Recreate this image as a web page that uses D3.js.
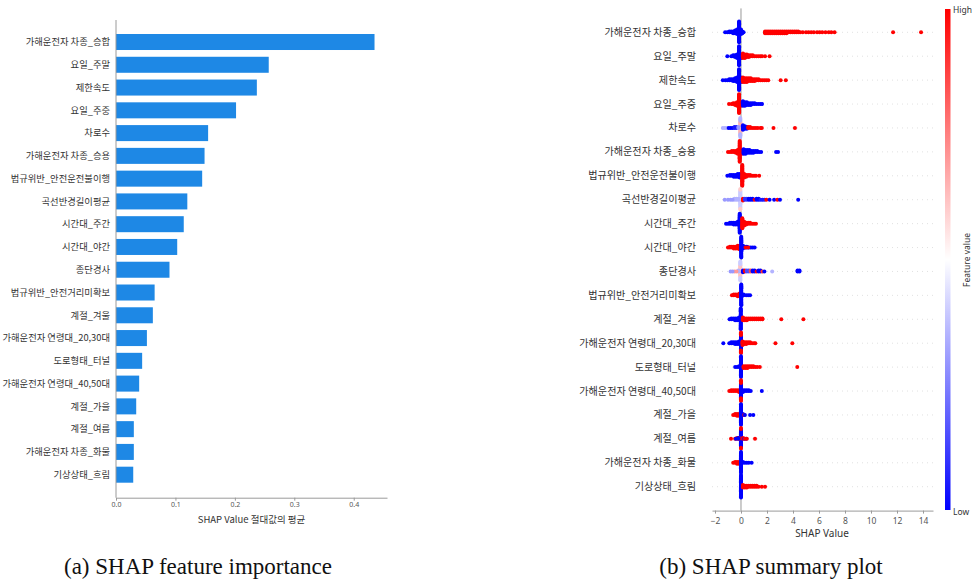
<!DOCTYPE html>
<html>
<head>
<meta charset="utf-8">
<script src="https://cdn.jsdelivr.net/npm/d3@7"></script>
<style>
  body { margin: 0; background: #fff; }
  svg { display: block; }
  .kr { font-family: "Noto Sans CJK KR", "Noto Sans", sans-serif; }
  .lat { font-family: "Noto Sans", "Open Sans", sans-serif; }
  .cap { font-family: "Liberation Serif", "DejaVu Serif", serif; }
</style>
</head>
<body>
<svg id="chart" width="974" height="580"></svg>
<script>
// Feature names, ordered by importance
const features = [
  "가해운전자 차종_승합", "요일_주말", "제한속도", "요일_주중", "차로수",
  "가해운전자 차종_승용", "법규위반_안전운전불이행", "곡선반경길이평균", "시간대_주간", "시간대_야간",
  "종단경사", "법규위반_안전거리미확보", "계절_겨울", "가해운전자 연령대_20,30대", "도로형태_터널",
  "가해운전자 연령대_40,50대", "계절_가을", "계절_여름", "가해운전자 차종_화물", "기상상태_흐림"
];

// Mean |SHAP value| per feature
const meanAbsShap = [
  0.435, 0.257, 0.237, 0.202, 0.155,
  0.149, 0.145, 0.120, 0.114, 0.103,
  0.090, 0.065, 0.062, 0.052, 0.044,
  0.039, 0.034, 0.030, 0.030, 0.029
];

const importanceTicks = [0.0, 0.1, 0.2, 0.3, 0.4];
const summaryTicks = [-2, 0, 2, 4, 6, 8, 10, 12, 14];

// Summary-plot samples per feature: [feature value (0 low .. 1 high), repeats, SHAP values]
const dots01 = [
  [0, 24, [-0.15]], [0, 6, [-0.3, 0.0]], [0, 4, [-0.45]], [0, 3, [-0.6, 0.1]],
  [0, 2, [-0.75, -0.9]], [0, 1, [-1.05, -1.22, 0.2]],
  [1, 3, [1.85, 2.0, 2.15, 2.3, 2.45, 2.6, 2.75, 2.9, 3.05, 3.2, 3.35, 3.5]],
  [1, 2, [3.65, 3.8, 3.95, 4.1, 4.25, 4.4]],
  [1, 1, [4.55, 4.75, 5.0, 5.2, 5.4, 5.6, 5.85, 6.05, 6.25, 6.5, 6.75, 6.95, 7.2, 11.7, 13.85]]
];
const dots02 = [
  [0, 22, [-0.15]], [0, 5, [-0.3, 0.0]], [0, 3, [-0.45]], [0, 2, [-0.6]], [0, 1, [-0.75, -1.05]],
  [1, 6, [0.15]], [1, 5, [0.3]], [1, 4, [0.45]], [1, 3, [0.6]], [1, 2, [0.75, 0.9]],
  [1, 1, [1.05, 1.2, 1.35, 1.5, 1.62, 1.85, 2.2]]
];
const dots03 = [
  [0, 24, [-0.15]], [0, 6, [-0.3, 0.0]], [0, 4, [-0.45]], [0, 3, [-0.6]], [0, 2, [-0.75, -0.9]],
  [0, 1, [-1.05, -1.2, -1.4]],
  [1, 6, [0.15]], [1, 5, [0.3, 0.45]], [1, 4, [0.6, 0.75]], [1, 3, [0.9, 1.05]], [1, 2, [1.2, 1.35]],
  [1, 1, [1.5, 1.65, 1.8, 1.95, 2.1, 3.05, 3.45]]
];
const dots04 = [
  [1, 22, [-0.15]], [1, 5, [-0.3, 0.0]], [1, 3, [-0.45]], [1, 2, [-0.6]], [1, 1, [-0.72, -0.92]],
  [0, 6, [0.15]], [0, 5, [0.3]], [0, 4, [0.45]], [0, 3, [0.6, 0.75]], [0, 2, [0.9, 1.05]],
  [0, 1, [1.2, 1.35, 1.5, 1.62]]
];
const dots05 = [
  [0.65, 14, [-0.05]], [0.35, 8, [-0.05]],
  [0.35, 1, [-1.4, -1.25, -1.1]], [0, 1, [-0.95, -0.8, -0.65]], [0.05, 2, [-0.5, -0.35]], [0.3, 2, [-0.2]],
  [0, 6, [0.15]], [0, 4, [0.3]], [0, 3, [0.45]],
  [1, 2, [0.55, 0.7]], [1, 1, [0.85, 1.0, 1.15, 1.3, 1.5, 1.6, 2.5, 4.15]]
];
const dots06 = [
  [1, 24, [-0.1]], [1, 5, [-0.25, 0.05]], [1, 3, [-0.4]], [1, 2, [-0.55, -0.7]], [1, 1, [-0.85, -1.0]],
  [0, 6, [0.2]], [0, 5, [0.35]], [0, 4, [0.5, 0.65]], [0, 3, [0.8, 0.95]], [0, 2, [1.1, 1.25]],
  [0, 1, [1.4, 1.55, 2.7, 2.85]]
];
const dots07 = [
  [0, 5, [-0.1]], [0, 4, [-0.25]], [0, 3, [-0.4, -0.55]], [0, 2, [-0.7, -0.85]], [0, 1, [-1.05]],
  [1, 24, [0.1]], [1, 5, [0.25]], [1, 3, [0.4]], [1, 2, [0.55, 0.7]], [1, 1, [0.85, 1.0, 1.15, 1.4]]
];
const dots08 = [
  [0.4, 20, [-0.05]], [0.6, 4, [-0.05]],
  [0.35, 2, [-0.2, -0.35, -0.5]], [0.3, 1, [-0.65, -0.8, -1.0, -1.25]],
  [1, 3, [0.15]], [0.1, 2, [0.3, 0.45]], [0, 2, [0.6, 0.75, 0.9]], [1, 1, [1.05]], [0, 2, [1.2, 1.35]],
  [0.05, 1, [1.5, 1.65, 1.8]], [1, 1, [1.95]], [0, 1, [2.2, 2.55]], [1, 1, [2.8]], [0, 1, [3.0, 4.4]]
];
const dots09 = [
  [0, 22, [-0.1]], [0, 4, [-0.25]], [0, 3, [-0.4, -0.55]], [0, 2, [-0.7, -0.85]], [0, 1, [-1.0, -1.15]],
  [1, 12, [0.1]], [1, 5, [0.25]], [1, 3, [0.4]], [1, 2, [0.55, 0.7]], [1, 1, [0.85, 1.0, 1.15]]
];
const dots10 = [
  [1, 5, [-0.1]], [1, 4, [-0.25]], [1, 3, [-0.4, -0.55]], [1, 2, [-0.7, -0.85]], [1, 1, [-1.0]],
  [0, 24, [0.02]], [0, 4, [0.15]], [0, 2, [0.3, 0.45]], [0, 1, [0.6, 0.75, 0.9, 1.05]],
  [1, 1, [0.35, 0.55]]
];
const dots11 = [
  [0.62, 14, [-0.05]], [0.4, 8, [-0.05]],
  [0.35, 2, [-0.2]], [0.7, 1, [-0.35, -0.5]], [0.3, 1, [-0.65, -0.8]],
  [0, 3, [0.15]], [1, 2, [0.3]], [0.15, 2, [0.45, 0.6]], [0.85, 2, [0.75]], [0, 2, [0.9, 1.05]],
  [1, 1, [1.2]], [0, 2, [1.35, 1.5]], [0.9, 1, [1.65]], [0, 1, [1.8]], [0.35, 1, [2.4]], [0, 2, [4.35, 4.5]]
];
const dots12 = [
  [1, 4, [-0.1]], [1, 3, [-0.25]], [1, 2, [-0.4, -0.55]], [1, 1, [-0.7]],
  [0, 24, [0.02]], [0, 2, [0.2]], [0, 1, [0.4, 0.55, 0.7]]
];
const dots13 = [
  [0, 24, [-0.02]], [0, 4, [-0.15]], [0, 3, [-0.3, -0.45]], [0, 2, [-0.6, -0.75]], [0, 1, [-0.88]],
  [1, 4, [0.15]], [1, 3, [0.3, 0.45]], [1, 2, [0.6, 0.75, 0.9, 1.05, 1.2, 1.35, 1.5, 1.65]], [1, 1, [3.1, 4.8]]
];
const dots14 = [
  [0, 16, [0.0]], [1, 8, [0.0]], [0, 4, [-0.15]], [0, 3, [-0.3, -0.45]], [0, 2, [-0.6, -0.75]], [0, 1, [-0.9, -1.36]],
  [1, 5, [0.12]], [1, 3, [0.25, 0.4]], [1, 2, [0.55, 0.7]], [1, 1, [0.85, 1.0, 1.1, 2.65, 3.95]]
];
const dots15 = [
  [0, 24, [0.0]], [0, 2, [-0.15]], [0, 1, [-0.3, -0.45]],
  [1, 3, [0.2, 0.35, 0.5]], [1, 2, [0.65, 0.8, 0.95]], [1, 1, [1.1, 1.25, 1.45, 4.33]]
];
const dots16 = [
  [1, 3, [-0.15]], [1, 2, [-0.3, -0.45, -0.6, -0.75]], [1, 1, [-0.9]],
  [0, 16, [0.0]], [1, 8, [0.0]], [0, 3, [0.15]], [0, 2, [0.3, 0.45, 0.6]], [0, 1, [0.75, 1.6]]
];
const dots17 = [
  [1, 3, [-0.15, -0.3]], [1, 2, [-0.45]], [1, 1, [-0.6]],
  [0, 24, [0.0]], [0, 2, [0.15]], [1, 1, [0.25]], [0, 1, [0.3, 0.7, 0.95]]
];
const dots18 = [
  [0, 20, [0.0]], [1, 4, [0.0]], [1, 2, [-0.15, -0.3]], [0, 2, [-0.2]], [1, 1, [-0.45, -0.77]], [0, 1, [-0.4]],
  [1, 2, [0.15]], [0, 1, [0.25, 0.4]], [1, 1, [0.3, 0.45, 1.08]]
];
const dots19 = [
  [1, 3, [-0.15, -0.3]], [1, 2, [-0.45]], [1, 1, [-0.6]],
  [0, 24, [0.0]], [0, 2, [0.15]], [0, 1, [0.3, 0.45, 0.6, 0.82]]
];
const dots20 = [
  [0, 26, [0.0]],
  [1, 4, [0.15]], [1, 3, [0.3, 0.45]], [1, 2, [0.6, 0.75, 0.9, 1.05, 1.2]], [1, 1, [1.35, 1.6, 1.85]]
];
const swarmRows = [dots01, dots02, dots03, dots04, dots05, dots06, dots07, dots08, dots09, dots10,
                   dots11, dots12, dots13, dots14, dots15, dots16, dots17, dots18, dots19, dots20];

const svg = d3.select("#chart");
const textColor = "#333";
const tickColor = "#555";

// ---------- (a) mean |SHAP| bar chart ----------
const barX = d3.scaleLinear().domain([0, 0.456]).range([116, 387]);
const barY = d3.scaleBand().domain(features).range([34, 482.7]).paddingInner(0.297).paddingOuter(0);

const left = svg.append("g");
left.selectAll("rect.bar").data(features).join("rect")
  .attr("class", "bar")
  .attr("x", barX(0))
  .attr("y", d => barY(d))
  .attr("width", (d, i) => barX(meanAbsShap[i]) - barX(0))
  .attr("height", barY.bandwidth())
  .attr("fill", "#1E88E5");

left.selectAll("text.flabel").data(features).join("text")
  .attr("class", "flabel kr")
  .attr("x", 110)
  .attr("y", d => barY(d) + barY.bandwidth() / 2)
  .attr("dy", "0.35em")
  .attr("text-anchor", "end")
  .attr("font-size", 9.3)
  .attr("fill", textColor)
  .text(d => d);

left.append("line")
  .attr("x1", 116).attr("x2", 116).attr("y1", 20).attr("y2", 497.7)
  .attr("stroke", "#9a9a9a").attr("stroke-width", 1);

const barAxis = left.append("g")
  .attr("transform", "translate(0,497.7)")
  .call(d3.axisBottom(barX).tickValues(importanceTicks).tickFormat(d3.format(".1f"))
    .tickSize(3).tickPadding(1).tickSizeOuter(0));
barAxis.select(".domain").attr("stroke", "#9a9a9a");
barAxis.selectAll(".tick line").attr("stroke", "#9a9a9a");
barAxis.selectAll(".tick text").attr("class", "lat").attr("font-size", 7).attr("fill", tickColor).attr("dy", "0.75em");

left.append("text")
  .attr("class", "kr")
  .attr("x", 251.5).attr("y", 522.5)
  .attr("text-anchor", "middle").attr("font-size", 9.5).attr("fill", textColor)
  .text("SHAP Value 절대값의 평균");

// ---------- (b) SHAP summary beeswarm ----------
const sx = d3.scaleLinear().domain([-2.23, 14.77]).range([712, 933]);
const sy = d3.scalePoint().domain(features).range([32.3, 486.7]);
const color = d3.scaleLinear().domain([0, 0.5, 1]).range(["#0000ff", "#ffffff", "#ff0000"]);
const stackGap = 0.9;

const right = svg.append("g");

// faint dotted guide per feature row
right.selectAll("line.guide").data(features).join("line")
  .attr("class", "guide")
  .attr("x1", 712).attr("x2", 933)
  .attr("y1", d => sy(d)).attr("y2", d => sy(d))
  .attr("stroke", "#cccccc").attr("stroke-width", 0.6).attr("stroke-dasharray", "1,4");

// zero line
right.append("line")
  .attr("x1", sx(0)).attr("x2", sx(0)).attr("y1", 8.4).attr("y2", 510.6)
  .attr("stroke", "#999999").attr("stroke-width", 1);

// stack samples that share a SHAP value, alternating above and below the row
const points = [];
swarmRows.forEach((groups, r) => {
  const counts = new Map();
  groups.forEach(([fv, n, xs]) => {
    xs.forEach(x => {
      for (let k = 0; k < n; k++) {
        const key = x.toFixed(2);
        const c = counts.get(key) || 0;
        counts.set(key, c + 1);
        const off = Math.ceil(c / 2) * (c % 2 ? -1 : 1) * stackGap;
        points.push({ x, fv, off, feature: features[r] });
      }
    });
  });
});

right.selectAll("circle.dot").data(points).join("circle")
  .attr("class", "dot")
  .attr("cx", d => sx(d.x))
  .attr("cy", d => sy(d.feature) + d.off)
  .attr("r", 2)
  .attr("fill", d => color(d.fv));

right.selectAll("text.flabel").data(features).join("text")
  .attr("class", "flabel kr")
  .attr("x", 696)
  .attr("y", d => sy(d))
  .attr("dy", "0.35em")
  .attr("text-anchor", "end")
  .attr("font-size", 10.1)
  .attr("fill", textColor)
  .text(d => d);

const sAxis = right.append("g")
  .attr("transform", "translate(0,510.6)")
  .call(d3.axisBottom(sx).tickValues(summaryTicks).tickSize(3).tickSizeOuter(0));
sAxis.select(".domain").attr("stroke", "#9a9a9a");
sAxis.selectAll(".tick line").attr("stroke", "#9a9a9a");
sAxis.selectAll(".tick text").attr("class", "lat").attr("font-size", 8.5).attr("fill", tickColor).attr("dy", "0.85em");

right.append("text")
  .attr("class", "lat")
  .attr("x", 822).attr("y", 537)
  .attr("text-anchor", "middle").attr("font-size", 10).attr("fill", textColor)
  .text("SHAP Value");

// colour bar
const defs = svg.append("defs");
const grad = defs.append("linearGradient").attr("id", "fvgrad")
  .attr("x1", 0).attr("x2", 0).attr("y1", 1).attr("y2", 0);
[0, 0.25, 0.5, 0.75, 1].forEach(t => grad.append("stop").attr("offset", t).attr("stop-color", color(t)));
right.append("rect")
  .attr("x", 945).attr("y", 9).attr("width", 5.5).attr("height", 501)
  .attr("fill", "url(#fvgrad)");
right.append("text").attr("class", "lat").attr("x", 953).attr("y", 13)
  .attr("font-size", 8.5).attr("fill", textColor).text("High");
right.append("text").attr("class", "lat").attr("x", 953).attr("y", 515)
  .attr("font-size", 8.5).attr("fill", textColor).text("Low");
right.append("text")
  .attr("class", "lat")
  .attr("transform", "translate(970,260) rotate(-90)")
  .attr("text-anchor", "middle").attr("font-size", 8.5).attr("fill", textColor)
  .text("Feature value");

// ---------- captions ----------
svg.append("text").attr("class", "cap").attr("x", 198).attr("y", 574).attr("text-anchor", "middle")
  .attr("font-size", 23).attr("fill", "#111")
  .text("(a) SHAP feature importance");
svg.append("text").attr("class", "cap").attr("x", 771).attr("y", 574).attr("text-anchor", "middle")
  .attr("font-size", 23).attr("fill", "#111")
  .text("(b) SHAP summary plot");
</script>
</body>
</html>
